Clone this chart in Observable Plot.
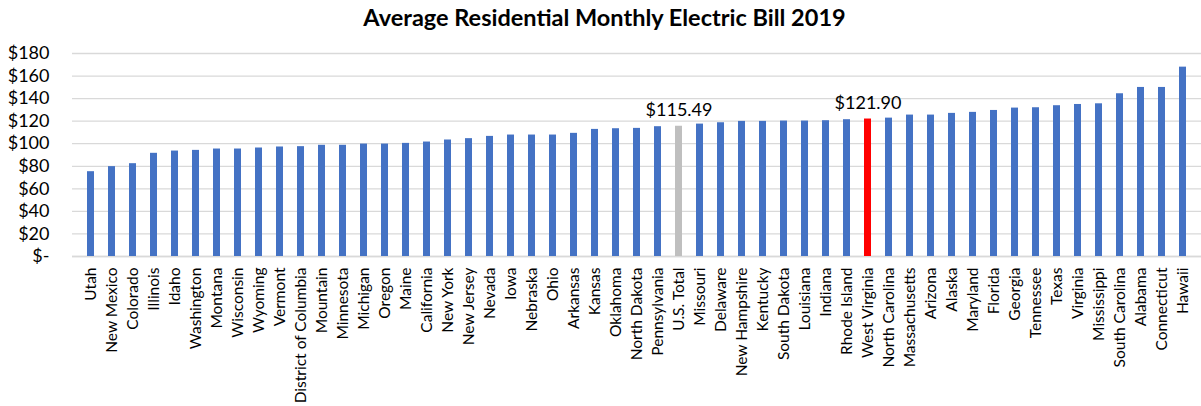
<!DOCTYPE html>
<html>
<head>
<meta charset="utf-8">
<script src="https://cdn.jsdelivr.net/npm/d3@7"></script>
<script src="https://cdn.jsdelivr.net/npm/@observablehq/plot@0.6"></script>
<style>
  html, body { margin: 0; padding: 0; background: #fff; }
  #title { height: 40px; line-height: 34px; text-align: center; font-family: Lato, "Open Sans", sans-serif; font-weight: bold; font-size: 23.5px; color: #000; width: 1201px; padding-left: 8px; box-sizing: border-box; }
  #chart svg { display: block; }
</style>
</head>
<body>
<div id="title">Average Residential Monthly Electric Bill 2019</div>
<div id="chart"></div>
<script>
const states = ["Utah","New Mexico","Colorado","Illinois","Idaho","Washington","Montana","Wisconsin","Wyoming","Vermont","District of Columbia","Mountain","Minnesota","Michigan","Oregon","Maine","California","New York","New Jersey","Nevada","Iowa","Nebraska","Ohio","Arkansas","Kansas","Oklahoma","North Dakota","Pennsylvania","U.S. Total","Missouri","Delaware","New Hampshire","Kentucky","South Dakota","Louisiana","Indiana","Rhode Island","West Virginia","North Carolina","Massachusetts","Arizona","Alaska","Maryland","Florida","Georgia","Tennessee","Texas","Virginia","Mississippi","South Carolina","Alabama","Connecticut","Hawaii"];
const bills = [75.2,79.7,82.3,91.5,93.5,94.1,95.3,95.3,96.2,97.1,97.4,98.6,98.6,99.7,99.7,100.3,101.5,103.3,104.5,106.5,107.7,107.7,107.7,109.2,112.7,113.3,113.6,115.1,115.49,117.4,118.6,119.8,119.8,120.1,120.1,120.4,121.3,121.90,122.7,125.4,125.4,126.9,127.8,129.5,131.6,131.9,133.7,134.8,135.4,144.3,149.9,149.9,167.9];
const labelled = ["U.S. Total", "West Virginia"];
const yTicks = [0,20,40,60,80,100,120,140,160,180];

const data = states.map((s, i) => ({state: s, bill: bills[i]}));
const colorOf = s => s === "U.S. Total" ? "#BFBFBF" : s === "West Virginia" ? "#FF0000" : "#4472C4";

const chart = Plot.plot({
  width: 1201,
  height: 366,
  marginLeft: 72,
  marginRight: 0,
  marginTop: 13,
  marginBottom: 150,
  style: { fontFamily: "Lato, 'Open Sans', sans-serif", fontSize: "15.5px", color: "#000", background: "#fff" },
  x: { domain: states, padding: 0.67, label: null },
  y: { domain: [0, 180], label: null },
  marks: [
    Plot.gridY(yTicks, { stroke: "#d9d9d9", strokeOpacity: 1, strokeWidth: 1.3 }),
    Plot.ruleY([0], { stroke: "#d9d9d9", strokeWidth: 1.3 }),
    Plot.barY(data, { x: "state", y: "bill", fill: d => colorOf(d.state) }),
    Plot.text(data.filter(d => labelled.includes(d.state)), {
      x: "state", y: "bill", text: d => "$" + d.bill.toFixed(2), dy: -16, fontSize: 18, fill: "#000"
    }),
    Plot.axisY(yTicks, { tickSize: 0, tickPadding: 23, fontSize: 18, tickFormat: d => d === 0 ? "$-" : "$" + d, label: null }),
    Plot.axisX({ tickSize: 0, tickPadding: 11, tickRotate: -90, fontSize: 15.5, label: null })
  ]
});
document.getElementById("chart").appendChild(chart);
</script>
</body>
</html>
